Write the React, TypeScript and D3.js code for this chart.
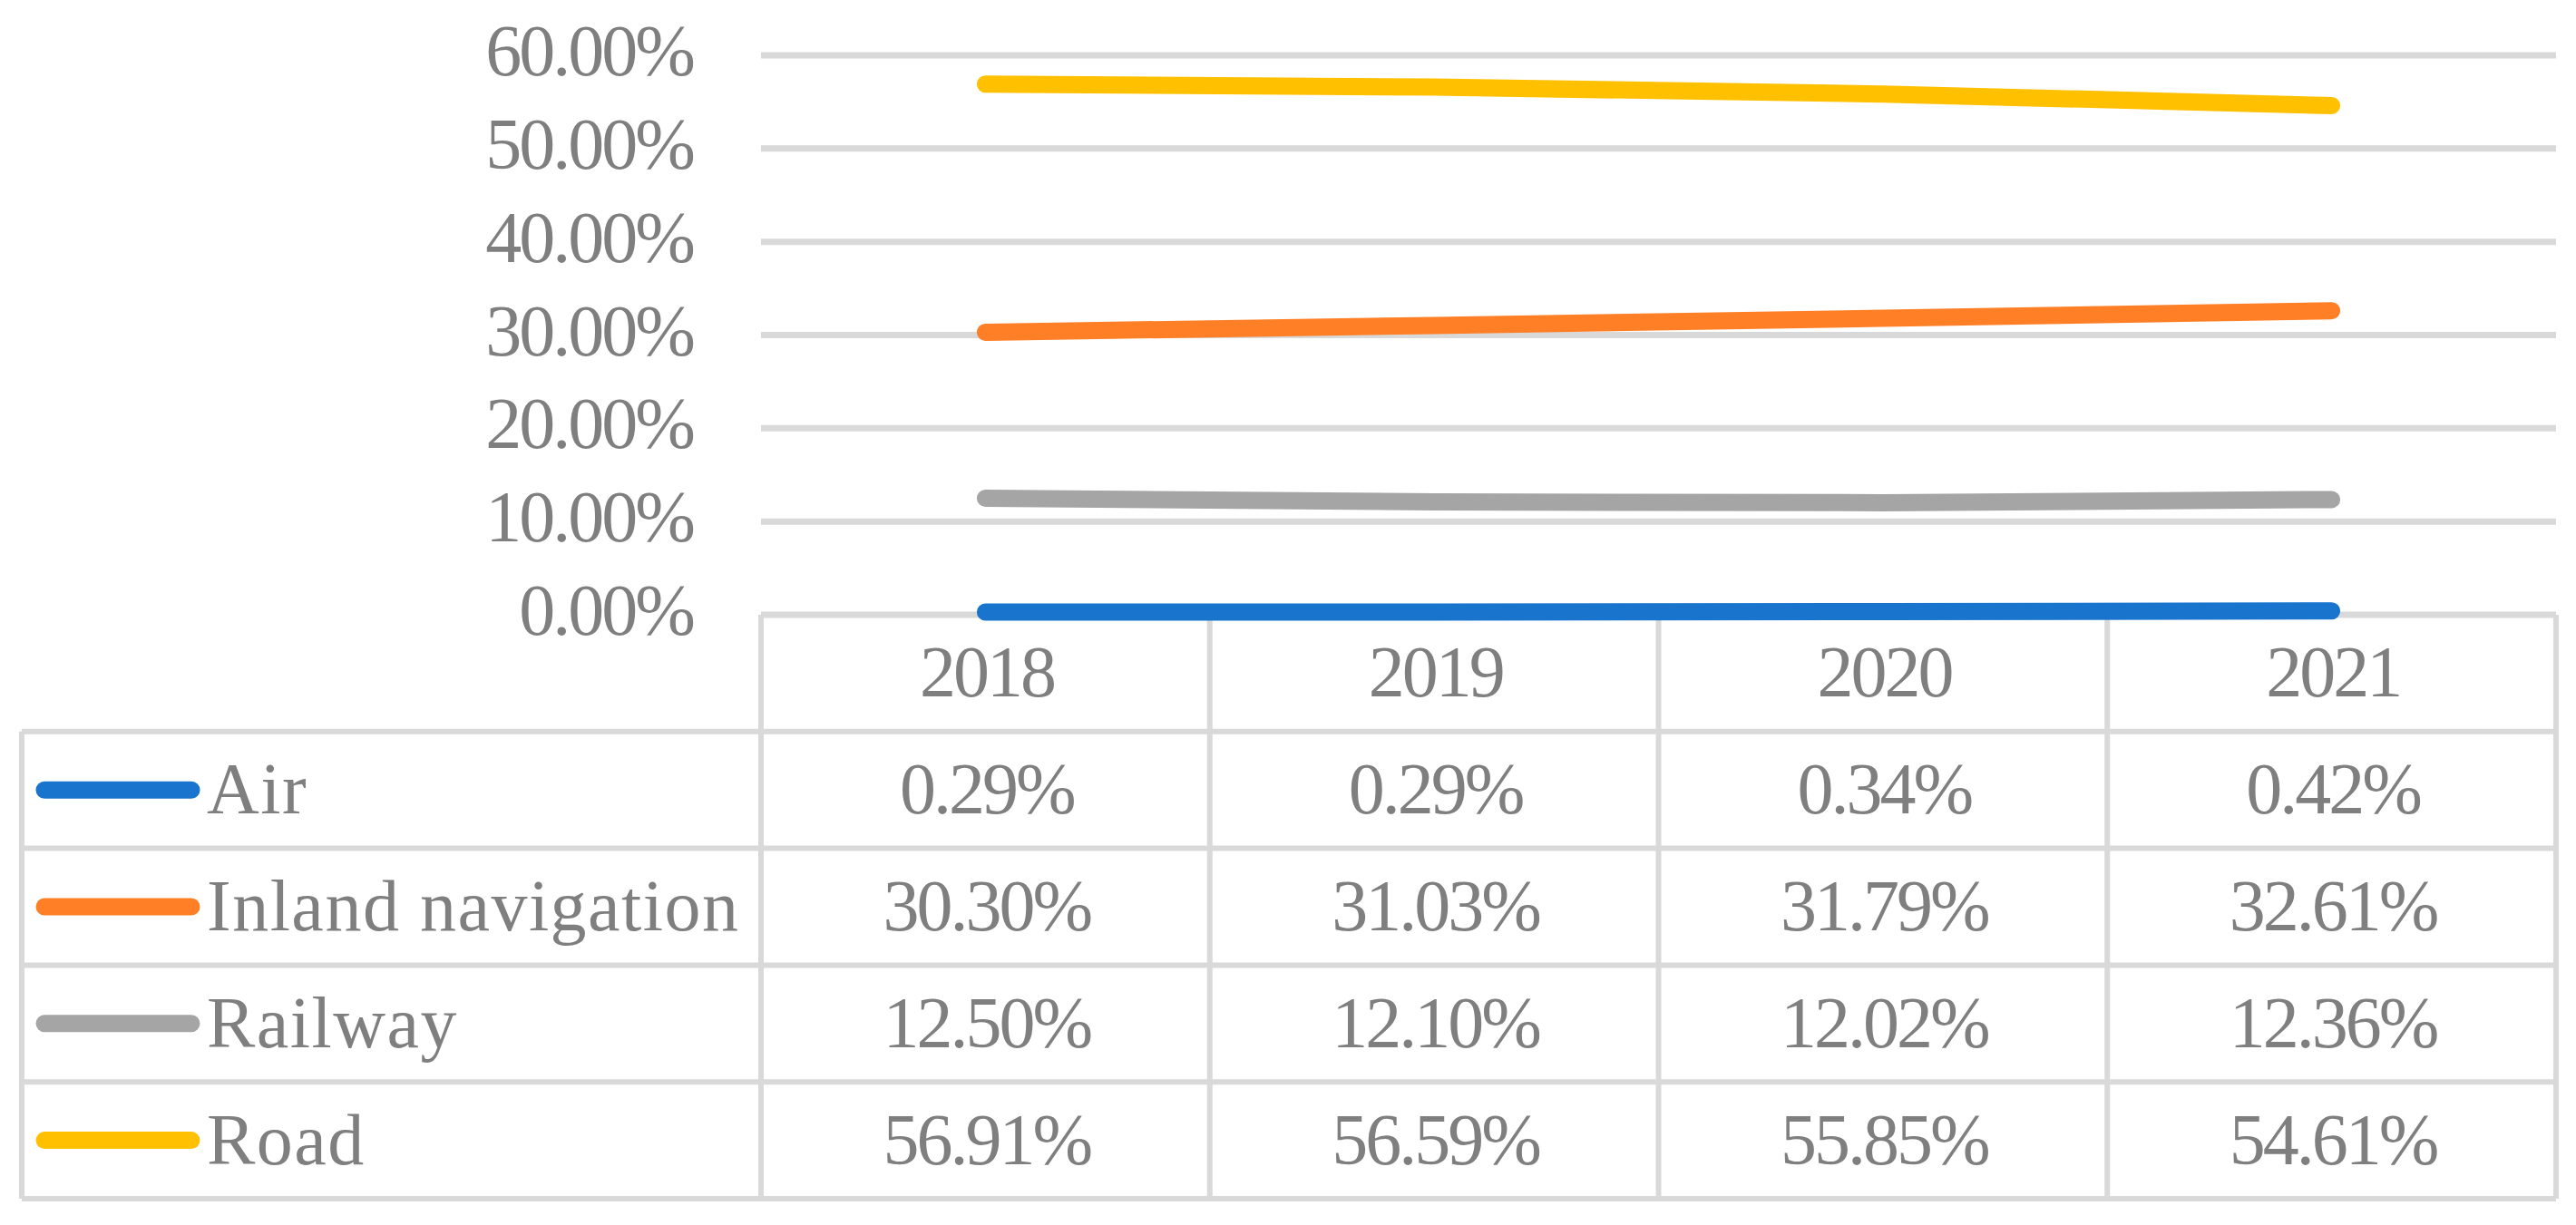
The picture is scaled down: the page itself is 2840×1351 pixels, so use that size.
import React from 'react';
import * as d3 from 'd3';

const years = ['2018', '2019', '2020', '2021'];
const seriesNames = ['Air', 'Inland navigation', 'Railway', 'Road'];
const airValues = [0.29, 0.29, 0.34, 0.42];
const inlandValues = [30.3, 31.03, 31.79, 32.61];
const railwayValues = [12.5, 12.1, 12.02, 12.36];
const roadValues = [56.91, 56.59, 55.85, 54.61];
const seriesColors = ['#1874CD', '#FF7F27', '#A5A5A5', '#FFC000'];
const yTicks = [0, 10, 20, 30, 40, 50, 60];

const W = 2840;
const H = 1351;
const FONT = '"Liberation Serif", "DejaVu Serif", serif';
const TEXT = '#7F7F7F';
const GRID = '#D9D9D9';
const FS = 80;
const CAP = 26;
const NUM_LS = -3;
const LABEL_LS = 1.5;

export default function App() {
  const allValues = [airValues, inlandValues, railwayValues, roadValues];
  const x = d3.scaleBand<string>().domain(years).range([839, 2818]);
  const cx = (yr: string) => (x(yr) as number) + x.bandwidth() / 2;
  const y = d3.scaleLinear().domain([0, 60]).range([678, 61]);
  const rows = d3.scaleBand<string>().domain(['header', ...seriesNames]).range([678, 1322]);
  const line = d3
    .line<number>()
    .x((_, i) => cx(years[i]))
    .y((d) => y(d));
  const fmt = (v: number) => v.toFixed(2) + '%';
  const tableLeft = 24;
  const tableRight = 2818;
  const plotLeft = 839;
  const top = 678;
  const bottom = 1322;
  const legendTop = rows(seriesNames[0]) as number;

  return (
    <svg
      width={W}
      height={H}
      style={{ position: 'absolute', left: 0, top: 0, background: '#fff' }}
      fontFamily={FONT}
    >
      <rect x={0} y={0} width={W} height={H} fill="#fff" />
      {/* gridlines */}
      {yTicks.map((t) => (
        <line key={'g' + t} x1={plotLeft} x2={tableRight} y1={y(t)} y2={y(t)} stroke={GRID} strokeWidth={7} />
      ))}
      {/* y tick labels */}
      {yTicks.map((t) => (
        <text
          key={'t' + t}
          x={761 - NUM_LS}
          y={y(t) + CAP - 4}
          textAnchor="end"
          fontSize={FS}
          fill={TEXT}
          letterSpacing={NUM_LS}
        >
          {t.toFixed(2) + '%'}
        </text>
      ))}
      {/* table grid */}
      <g stroke={GRID} strokeWidth={6} fill="none">
        <line x1={plotLeft} x2={tableRight} y1={top} y2={top} />
        {seriesNames.map((s) => (
          <line key={'h' + s} x1={tableLeft} x2={tableRight} y1={rows(s) as number} y2={rows(s) as number} />
        ))}
        <line x1={tableLeft} x2={tableRight} y1={bottom} y2={bottom} />
        <line x1={tableLeft} x2={tableLeft} y1={legendTop} y2={bottom} />
        {years.map((yr) => (
          <line key={'v' + yr} x1={x(yr) as number} x2={x(yr) as number} y1={top} y2={bottom} />
        ))}
        <line x1={tableRight} x2={tableRight} y1={top} y2={bottom} />
      </g>
      {/* header */}
      {years.map((yr) => (
        <text
          key={'y' + yr}
          x={cx(yr) - NUM_LS / 2}
          y={(rows('header') as number) + rows.bandwidth() / 2 + CAP}
          textAnchor="middle"
          fontSize={FS}
          fill={TEXT}
          letterSpacing={NUM_LS}
        >
          {yr}
        </text>
      ))}
      {/* rows */}
      {seriesNames.map((s, si) => {
        const rc = (rows(s) as number) + rows.bandwidth() / 2;
        return (
          <g key={'r' + s}>
            <line x1={49} x2={211} y1={rc} y2={rc} stroke={seriesColors[si]} strokeWidth={19} strokeLinecap="round" />
            <text x={228} y={rc + CAP} fontSize={FS} fill={TEXT} letterSpacing={LABEL_LS}>
              {s}
            </text>
            {allValues[si].map((v, i) => (
              <text
                key={i}
                x={cx(years[i]) - NUM_LS / 2}
                y={rc + CAP}
                textAnchor="middle"
                fontSize={FS}
                fill={TEXT}
                letterSpacing={NUM_LS}
              >
                {fmt(v)}
              </text>
            ))}
          </g>
        );
      })}
      {/* lines */}
      {allValues.map((vals, si) => (
        <path
          key={'l' + si}
          d={line(vals) || ''}
          fill="none"
          stroke={seriesColors[si]}
          strokeWidth={19}
          strokeLinecap="round"
          strokeLinejoin="round"
        />
      ))}
    </svg>
  );
}
